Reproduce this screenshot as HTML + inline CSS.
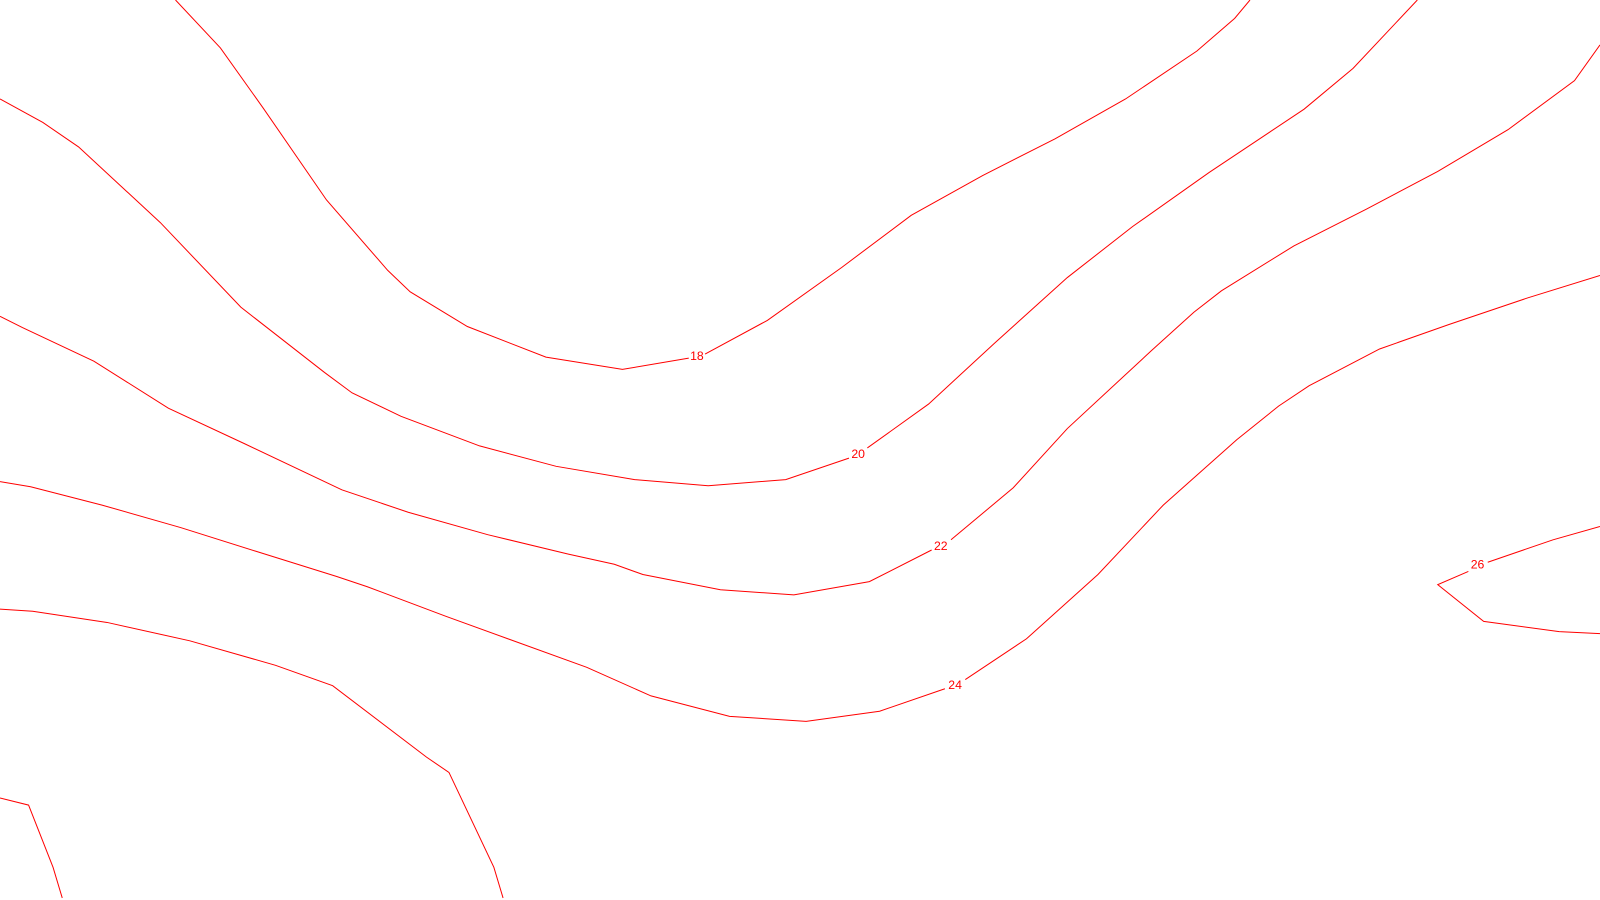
<!DOCTYPE html>
<html><head><meta charset="utf-8"><style>
html,body{margin:0;padding:0;background:#fff;overflow:hidden;}
svg{display:block;}
text{font-family:"Liberation Sans",sans-serif;font-size:12px;fill:#ff0000;}
</style></head><body>
<svg width="1600" height="900" viewBox="0 0 1600 900">
<g transform="scale(1.0204)">
<g fill="none" stroke="#ff0000" stroke-width="0.98">
<polyline points="172,0 216,47 258,106 320,196 380,265 402,286 458,320 535,350 610,362 675,351"/>
<polyline points="691,347 752,314 825,262 893,211 963,172 1034,136 1103,97 1173,50 1210,18 1225,0"/>
<polyline points="0,97 42,120 77,144 157,218 236,301 318,365 345,385 393,408 470,437 545,457 622,470 694,476 770,470 832,449"/>
<polyline points="850,439 910,396 975,336 1046,272 1110,222 1185,169 1278,107 1326,67 1389,0"/>
<polyline points="0,310 22,321 92,354 165,400 240,435 335,480 400,502 478,524 557,543 602,553 630,563 706,578 778,583 852,570 913,539"/>
<polyline points="932,529 993,478 1046,420 1128,344 1170,306 1197,285 1268,241 1339,205 1409,168 1478,127 1543,79 1568,44"/>
<polyline points="0,472 30,477 100,495 177,517 250,540 330,565 360,575 437,604 575,654 638,682 715,702 790,707 862,697 926,675"/>
<polyline points="946,666 1006,626 1076,563 1140,495 1212,431 1253,398 1283,378 1352,342 1420,318 1497,292 1568,270"/>
<polyline points="1568,516 1522,529 1458,551"/>
<polyline points="1439,560 1409,573 1454,609 1528,619 1568,621"/>
<polyline points="0,597 32,599 105,610 186,628 270,652 326,672 418,742 440,757 484,850 493,880"/>
<polyline points="0,782 28,789 52,850 61,880"/>
</g>
<text x="683" y="353" text-anchor="middle">18</text>
<text x="841" y="449" text-anchor="middle">20</text>
<text x="922" y="539" text-anchor="middle">22</text>
<text x="936" y="675" text-anchor="middle">24</text>
<text x="1448" y="557" text-anchor="middle">26</text>
</g>
</svg>
</body></html>
